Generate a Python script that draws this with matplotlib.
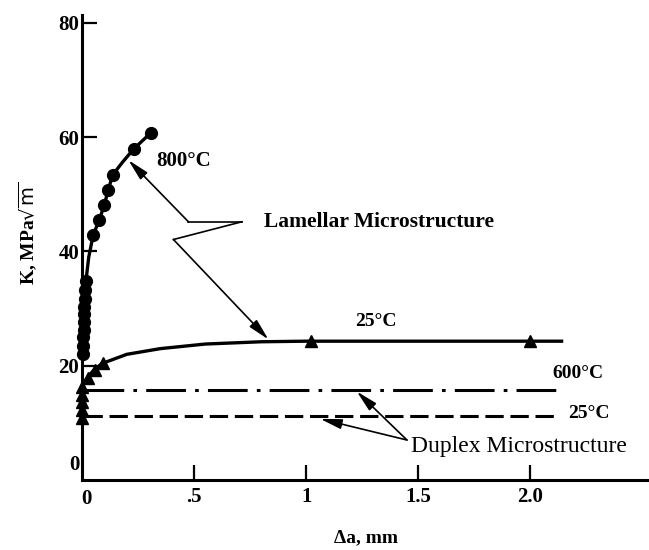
import matplotlib
matplotlib.use("Agg")
from matplotlib import pyplot as plt

# Lamellar 800C: curve and circle markers
lam800_curve_x = [0.004, 0.006, 0.009, 0.013, 0.018, 0.03, 0.05, 0.077, 0.10, 0.117, 0.137, 0.18, 0.232, 0.308]
lam800_curve_k = [22.0, 25.0, 28.5, 32.0, 35.0, 39.0, 42.9, 45.5, 48.2, 50.8, 53.4, 55.6, 58.0, 60.8]
lam800_pts_x = [0.004, 0.005, 0.006, 0.007, 0.008, 0.009, 0.010, 0.012, 0.014, 0.016, 0.05, 0.077, 0.10, 0.117, 0.137, 0.232, 0.308]
lam800_pts_k = [22.0, 23.5, 25.0, 26.3, 27.6, 29.0, 30.3, 31.7, 33.2, 34.8, 42.9, 45.5, 48.2, 50.8, 53.4, 58.0, 60.8]

# Lamellar 25C: curve and triangle markers
lam25_curve_x = [0.0, 0.03, 0.06, 0.09, 0.2, 0.35, 0.55, 0.8, 1.0, 1.5, 2.14]
lam25_curve_k = [16.5, 18.3, 19.5, 20.4, 22.0, 23.0, 23.8, 24.2, 24.3, 24.3, 24.3]
lam25_pts_x = [0.0, 0.025, 0.058, 0.094, 1.02, 2.0]
lam25_pts_k = [16.2, 17.8, 19.3, 20.5, 24.3, 24.3]

# Duplex triangles along the axis
dup_axis_k = [9.3, 17.0]
dup_pts_k = [10.9, 12.3, 13.7, 14.9]

# Duplex levels
dup600_x = [0.01, 2.15]
dup600_k = [15.8, 15.8]
dup25_x = [0.01, 2.13]
dup25_k = [11.2, 11.2]

x_ticks = [0.5, 1.0, 1.5, 2.0]
x_labels = [".5", "1", "1.5", "2.0"]
y_ticks = [20, 40, 60, 80]

serif = "Liberation Serif"

fig = plt.figure(figsize=(6.49, 5.5), dpi=100)
ax = fig.add_axes([82 / 649, 70 / 550, 567 / 649, 465 / 550])
ax.set_xlim(0, 2.53)
ax.set_ylim(0, 81.4)

for s in ["top", "right"]:
    ax.spines[s].set_visible(False)
for s in ["left", "bottom"]:
    ax.spines[s].set_linewidth(2.2)

ax.set_xticks(x_ticks)
ax.set_xticklabels(x_labels)
ax.set_yticks(y_ticks)
ax.tick_params(direction="in", length=11, width=1.6, pad=5, labelsize=15)
ax.tick_params(axis="y", pad=2)
for lab in ax.get_xticklabels() + ax.get_yticklabels():
    lab.set_fontfamily(serif)
    lab.set_fontweight("bold")
ax.text(-0.01, 0.8, "0", ha="right", va="bottom", fontsize=15, fontweight="bold", family=serif)
ax.text(0.02, -1.5, "0", ha="center", va="top", fontsize=15, fontweight="bold", family=serif)

ax.set_xlabel("Δa, mm", fontsize=14, fontweight="bold", family=serif, labelpad=16)
ax.set_ylabel(r"K, MPa$\sqrt{\mathrm{m}}$", fontsize=14, fontweight="bold", family=serif)
ax.yaxis.set_label_coords(-0.075, 0.53)

c = "black"
ax.plot(lam800_curve_x, lam800_curve_k, color=c, lw=2.4, clip_on=False)
ax.plot(lam800_pts_x, lam800_pts_k, "o", color=c, ms=8.5, clip_on=False)
ax.plot(lam25_curve_x, lam25_curve_k, color=c, lw=2.4, clip_on=False)
ax.plot(lam25_pts_x, lam25_pts_k, "^", color=c, ms=8.5, clip_on=False)
ax.plot([0, 0], dup_axis_k, color=c, lw=2, clip_on=False)
ax.plot([0] * len(dup_pts_k), dup_pts_k, "^", color=c, ms=8.5, clip_on=False)
ax.plot(dup600_x, dup600_k, color=c, lw=2.2, dashes=(13, 3, 1.2, 3))
ax.plot(dup25_x, dup25_k, color=c, lw=2.2, dashes=(6, 2.2))

bold = dict(fontsize=14, fontweight="bold", family=serif)
ax.text(0.33, 55.9, "800°C", ha="left", va="center", fontsize=15, fontweight="bold", family=serif)
ax.text(0.81, 45.2, "Lamellar Microstructure", ha="left", va="center", fontsize=15.5, fontweight="bold", family=serif)
ax.text(1.31, 27.8, "25°C", ha="center", va="center", **bold)
ax.text(2.10, 18.6, "600°C", ha="left", va="center", **bold)
ax.text(2.17, 11.6, "25°C", ha="left", va="center", **bold)
ax.text(1.47, 5.8, "Duplex Microstructure", ha="left", va="center", fontsize=17, family=serif)

# callout lines
thin = dict(color=c, lw=1.2)
ax.plot([0.713, 0.475], [45.2, 45.2], **thin)
ax.plot([0.713, 0.408], [45.2, 42.1], **thin)
arrow = dict(arrowstyle="-|>,head_length=1.3,head_width=0.3", color=c, lw=1.2, shrinkA=0, shrinkB=0)
ax.annotate("", xy=(0.207, 56.0), xytext=(0.475, 45.2), arrowprops=arrow)
ax.annotate("", xy=(0.832, 24.6), xytext=(0.408, 42.1), arrowprops=arrow)
ax.annotate("", xy=(1.226, 15.5), xytext=(1.45, 7.0), arrowprops=arrow)
ax.annotate("", xy=(1.063, 10.7), xytext=(1.45, 7.0), arrowprops=arrow)

fig.savefig("out.png", dpi=100)
